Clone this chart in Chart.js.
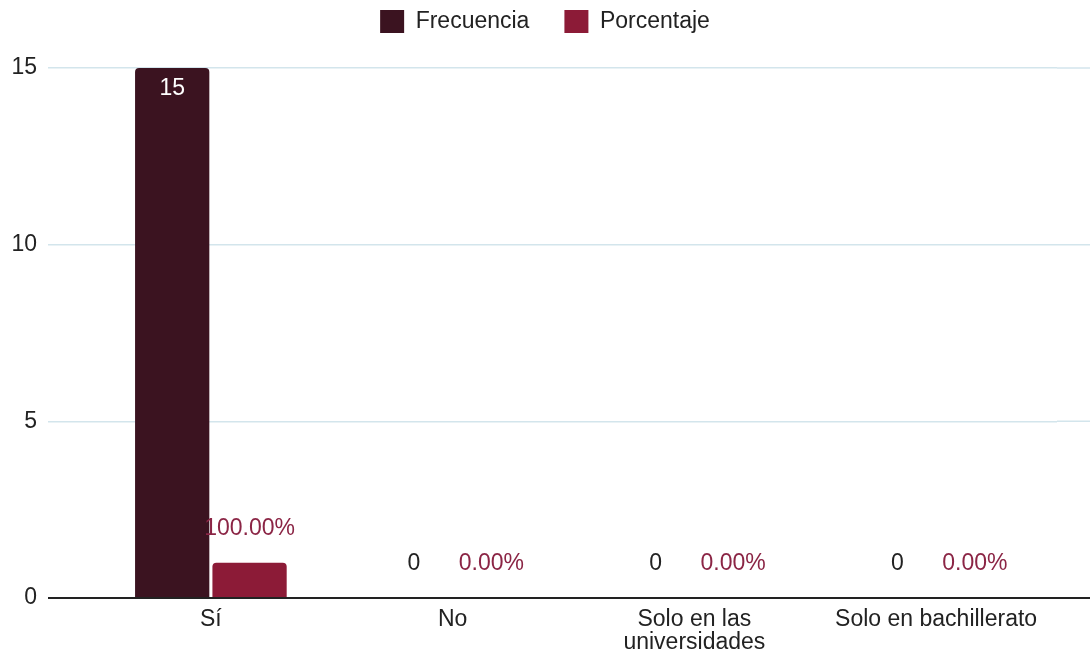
<!DOCTYPE html>
<html>
<head>
<meta charset="utf-8">
<script src="https://cdn.jsdelivr.net/npm/chart.js@4.4.0/dist/chart.umd.min.js"></script>
<style>
html, body { margin: 0; padding: 0; background: #fff; }
#wrap { width: 1090px; height: 654px; }
</style>
</head>
<body>
<div id="wrap"><canvas id="chart" width="1090" height="654"></canvas></div>
<script>
// Data
const categories = ['Sí', 'No', ['Solo en las', 'universidades'], 'Solo en bachillerato'];
const frecuencia = [15, 0, 0, 0];
const porcentaje = [1.00, 0, 0, 0]; // share of answers, 1 = 100%
const yTicks = [0, 5, 10, 15];

const FONT = '"Liberation Sans", Arial, sans-serif';
const COL_FREQ = '#3b1320';
const COL_PCT = '#8c1b37';
const COL_PCT_TEXT = '#8b2545';
const GRID = '#d3e5ec';

// value labels above / inside the bars
const valueLabels = {
  id: 'valueLabels',
  afterDatasetsDraw(chart) {
    const ctx = chart.ctx;
    ctx.save();
    ctx.font = '23px ' + FONT;
    ctx.textAlign = 'center';
    ctx.textBaseline = 'middle';
    chart.data.datasets.forEach((ds, di) => {
      chart.getDatasetMeta(di).data.forEach((bar, i) => {
        const v = ds.data[i];
        const text = di === 0 ? String(v) : (v * 100).toFixed(2) + '%';
        if (di === 0 && v > 0) {
          ctx.fillStyle = '#fff';
          ctx.fillText(text, bar.x, bar.y + 21);
        } else {
          ctx.fillStyle = di === 0 ? '#222' : COL_PCT_TEXT;
          ctx.fillText(text, bar.x, bar.y - 34);
        }
      });
    });
    ctx.restore();
  }
};

// gridlines run past the plot on the right, dark base line across the width
const gridExtend = {
  id: 'gridExtend',
  beforeDatasetsDraw(chart) {
    const ctx = chart.ctx;
    const y = chart.scales.y;
    const area = chart.chartArea;
    ctx.save();
    ctx.strokeStyle = GRID;
    ctx.lineWidth = 1.5;
    y.ticks.forEach(t => {
      if (t.value === 0) return;
      const py = y.getPixelForValue(t.value);
      ctx.beginPath();
      ctx.moveTo(area.right, py);
      ctx.lineTo(chart.width, py);
      ctx.stroke();
    });
    ctx.restore();
  },
  afterDatasetsDraw(chart) {
    const ctx = chart.ctx;
    const py = chart.scales.y.getPixelForValue(0);
    ctx.save();
    ctx.strokeStyle = '#222';
    ctx.lineWidth = 2;
    ctx.beginPath();
    ctx.moveTo(48, py);
    ctx.lineTo(chart.width, py);
    ctx.stroke();
    ctx.restore();
  }
};

// legend: keep it short so the plot starts where the picture does
const legendFit = {
  id: 'legendFit',
  beforeInit(chart) {
    const lg = chart.legend;
    if (!lg) return;
    const fit = lg.fit;
    lg.fit = function () {
      fit.call(this);
      this.height += 25;
    };
  }
};

new Chart(document.getElementById('chart'), {
  type: 'bar',
  data: {
    labels: categories,
    datasets: [
      { label: 'Frecuencia', data: frecuencia, backgroundColor: COL_FREQ, borderWidth: 0, borderRadius: 4 },
      { label: 'Porcentaje', data: porcentaje, backgroundColor: COL_PCT, borderWidth: 0, borderRadius: 4 }
    ]
  },
  options: {
    responsive: false,
    animation: false,
    devicePixelRatio: 1,
    categoryPercentage: 0.64,
    barPercentage: 0.96,
    layout: { padding: { top: -25, right: 0, left: 0, bottom: 0 } },
    plugins: {
      legend: {
        position: 'top',
        labels: {
          boxWidth: 24,
          boxHeight: 23,
          padding: 35,
          color: '#222',
          font: { size: 23, family: FONT }
        }
      },
      tooltip: { enabled: false }
    },
    scales: {
      x: {
        grid: { display: false, drawTicks: false },
        border: { display: false },
        ticks: { color: '#222', padding: 10, font: { size: 23, family: FONT, lineHeight: 1.0 } },
        afterFit(s) { s.height = 56; }
      },
      y: {
        min: 0,
        max: 15,
        border: { display: false },
        grid: { color: GRID, lineWidth: 1.5, tickLength: 42, drawTicks: true },
        afterBuildTicks(s) { s.ticks = yTicks.map(v => ({ value: v })); },
        ticks: { color: '#222', padding: 11, font: { size: 23, family: FONT } },
        afterFit(s) { s.width = 90; }
      },
      // empty strip on the right, keeps the bars where the picture has them
      yRight: {
        position: 'right',
        min: 0,
        max: 15,
        grid: { display: false, drawTicks: false },
        border: { display: false },
        ticks: { display: false },
        afterFit(s) { s.width = 33; }
      }
    }
  },
  plugins: [legendFit, gridExtend, valueLabels]
});
</script>
</body>
</html>
